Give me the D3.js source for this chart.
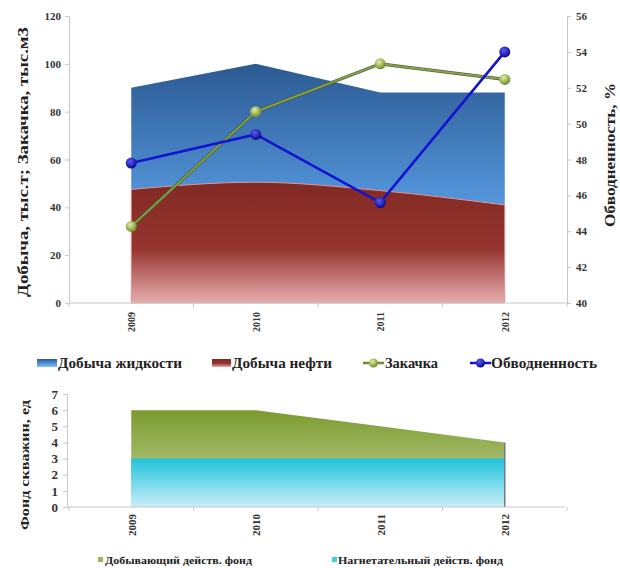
<!DOCTYPE html>
<html>
<head>
<meta charset="utf-8">
<script src="https://cdn.jsdelivr.net/npm/d3@7"></script>
<style>
  body { margin: 0; background: #fff; }
  svg text { font-family: "Liberation Serif", "DejaVu Serif", "Times New Roman", serif !important; font-weight: bold; }
</style>
</head>
<body>
<div class="chart"></div>
<script>
// data
const years = ["2009", "2010", "2011", "2012"];
const liquid = [90, 100, 88, 88];        // Добыча жидкости, тыс.т
const oil = [47.5, 50.5, 47, 41];        // Добыча нефти, тыс.т
const injection = [32, 80, 100, 93.5];   // Закачка, тыс.м3
const waterCut = [47.8, 49.4, 45.6, 54]; // Обводненность, %
const leftTicks = [0, 20, 40, 60, 80, 100, 120];
const rightTicks = [40, 42, 44, 46, 48, 50, 52, 54, 56];

const producing = [6, 6, 5, 4];   // Добывающий действ. фонд
const injecting = [3, 3, 3, 3];   // Нагнетательный действ. фонд
const wellTicks = [0, 1, 2, 3, 4, 5, 6, 7];

(function () {
    const svgWidth = 620, svgHeight = 568;
    const FONT = "'Liberation Serif', 'DejaVu Serif', serif";
    const svg = d3.select(".chart").append("svg")
        .attr("width", svgWidth)
        .attr("height", svgHeight)
        .attr("font-family", FONT);

    const defs = svg.append("defs");
    function linGrad(id, stops) {
        const g = defs.append("linearGradient").attr("id", id)
            .attr("x1", 0).attr("y1", 0).attr("x2", 0).attr("y2", 1);
        stops.forEach(s => g.append("stop").attr("offset", s[0]).attr("stop-color", s[1]));
    }
    function radGrad(id, inner, outer) {
        const g = defs.append("radialGradient").attr("id", id)
            .attr("cx", "40%").attr("cy", "35%").attr("r", "65%");
        g.append("stop").attr("offset", 0).attr("stop-color", inner);
        g.append("stop").attr("offset", 1).attr("stop-color", outer);
    }
    linGrad("gLiquid", [[0, "#2c5a92"], [0.55, "#5293d8"], [1, "#8cc0f0"]]);
    linGrad("gOil", [[0, "#822923"], [0.55, "#96342f"], [1, "#e6aeae"]]);
    linGrad("gProd", [[0, "#7a9a30"], [1, "#cbd99c"]]);
    linGrad("gInj", [[0, "#1ec3dc"], [1, "#cbeef9"]]);
    radGrad("mGreen", "#e4f0a0", "#6f8c2a");
    radGrad("mBlue", "#5a5aff", "#0a0a8a");

    const axisColor = "#c8c8c8";

    // ================= top chart =================
    const x = d3.scalePoint().domain(years).range([69, 567]).padding(0.5);
    const xb = d3.scaleBand().domain(years).range([69, 567]);
    const yL = d3.scaleLinear().domain([0, 120]).range([303, 16]);
    const yR = d3.scaleLinear().domain([40, 56]).range([303, 16]);

    const top = svg.append("g");

    const areaLiquid = d3.area().x((d, i) => x(years[i])).y0(yL(0)).y1(d => yL(d));
    const areaOil = d3.area().x((d, i) => x(years[i])).y0(yL(0)).y1(d => yL(d))
        .curve(d3.curveMonotoneX);

    top.append("path").datum(liquid).attr("d", areaLiquid).attr("fill", "url(#gLiquid)");
    top.append("path").datum(oil).attr("d", areaOil).attr("fill", "url(#gOil)")
        .attr("stroke", "#d99a9a").attr("stroke-width", 1);

    // axes
    const leftAxis = d3.axisLeft(yL).tickValues(leftTicks).tickSize(4).tickPadding(4);
    const rightAxis = d3.axisRight(yR).tickValues(rightTicks).tickSize(4).tickPadding(5);
    const bottomAxis = d3.axisBottom(x).tickSize(0).tickPadding(0);

    function styleAxis(g) {
        g.attr("font-family", FONT);
        g.select(".domain").attr("stroke", axisColor);
        g.selectAll(".tick line").attr("stroke", axisColor);
        g.selectAll(".tick text").attr("fill", "#333").style("font-size", "11px");
    }

    top.append("g").attr("transform", "translate(69,0)").call(leftAxis).call(styleAxis);
    top.append("g").attr("transform", "translate(567,0)").call(rightAxis).call(styleAxis);

    const xg = top.append("g").attr("transform", "translate(0,303)").call(bottomAxis).call(styleAxis);
    xg.select(".domain").remove();
    xg.append("line").attr("x1", 69).attr("x2", 567).attr("stroke", axisColor);
    xg.selectAll(".tick text")
        .style("font-size", "10px")
        .attr("transform", "rotate(-90)")
        .attr("text-anchor", "end")
        .attr("x", -9).attr("y", 0).attr("dy", "0.35em");
    xg.selectAll("line.sep")
        .data(years.map(d => xb(d)).concat([567]))
        .enter().append("line").attr("class", "sep")
        .attr("x1", d => d).attr("x2", d => d)
        .attr("y1", 0).attr("y2", 4).attr("stroke", axisColor);

    // lines
    const lineL = d3.line().x((d, i) => x(years[i])).y(d => yL(d));
    const lineR = d3.line().x((d, i) => x(years[i])).y(d => yR(d));

    top.append("path").datum(injection).attr("d", lineL)
        .attr("fill", "none").attr("stroke", "#4f6630").attr("stroke-width", 3.2);
    top.append("path").datum(injection).attr("d", lineL)
        .attr("fill", "none").attr("stroke", "#8aa650").attr("stroke-width", 1.6);
    top.selectAll("circle.inj").data(injection).enter().append("circle")
        .attr("class", "inj")
        .attr("cx", (d, i) => x(years[i])).attr("cy", d => yL(d))
        .attr("r", 5.5).attr("fill", "url(#mGreen)");

    top.append("path").datum(waterCut).attr("d", lineR)
        .attr("fill", "none").attr("stroke", "#1414d0").attr("stroke-width", 2.6);
    top.selectAll("circle.wc").data(waterCut).enter().append("circle")
        .attr("class", "wc")
        .attr("cx", (d, i) => x(years[i])).attr("cy", d => yR(d))
        .attr("r", 5.5).attr("fill", "url(#mBlue)");

    // axis titles
    svg.append("text")
        .attr("transform", "translate(23,162) rotate(-90)")
        .attr("text-anchor", "middle").attr("dy", "0.35em")
        .attr("fill", "#222").style("font-size", "15px")
        .attr("textLength", 270).attr("lengthAdjust", "spacingAndGlyphs")
        .text("Добыча, тыс.т; Закачка, тыс.м3");
    svg.append("text")
        .attr("transform", "translate(610,155) rotate(-90)")
        .attr("text-anchor", "middle").attr("dy", "0.35em")
        .attr("fill", "#222").style("font-size", "14px")
        .attr("textLength", 144).attr("lengthAdjust", "spacingAndGlyphs")
        .text("Обводненность, %");

    // legend
    const legY = 363;
    const leg = svg.append("g");
    leg.append("rect").attr("x", 37).attr("y", legY - 4).attr("width", 20).attr("height", 8)
        .attr("fill", "url(#gLiquid)");
    leg.append("rect").attr("x", 212).attr("y", legY - 4).attr("width", 19).attr("height", 8)
        .attr("fill", "url(#gOil)");
    leg.append("line").attr("x1", 363).attr("x2", 384).attr("y1", legY).attr("y2", legY)
        .attr("stroke", "#6f8c3a").attr("stroke-width", 2.5);
    leg.append("circle").attr("cx", 373.5).attr("cy", legY).attr("r", 4.5).attr("fill", "url(#mGreen)");
    leg.append("line").attr("x1", 470).attr("x2", 491).attr("y1", legY).attr("y2", legY)
        .attr("stroke", "#1414d0").attr("stroke-width", 2.5);
    leg.append("circle").attr("cx", 480.5).attr("cy", legY).attr("r", 4.5).attr("fill", "url(#mBlue)");

    const legItems = [
        {x: 58, w: 124, t: "Добыча жидкости"},
        {x: 232, w: 100, t: "Добыча нефти"},
        {x: 385, w: 53, t: "Закачка"},
        {x: 491, w: 106, t: "Обводненность"}
    ];
    leg.selectAll("text.lg").data(legItems).enter().append("text")
        .attr("class", "lg")
        .attr("x", d => d.x).attr("y", legY).attr("dy", "0.35em")
        .attr("fill", "#222").style("font-size", "14px")
        .attr("textLength", d => d.w).attr("lengthAdjust", "spacingAndGlyphs")
        .text(d => d.t);

    // ================= bottom chart =================
    const yB = d3.scaleLinear().domain([0, 7]).range([507, 394]);
    const bot = svg.append("g");

    const areaB = d3.area().x((d, i) => x(years[i])).y0(yB(0)).y1(d => yB(d));
    bot.append("path").datum(producing).attr("d", areaB).attr("fill", "url(#gProd)");
    bot.append("path").datum(injecting).attr("d", areaB).attr("fill", "url(#gInj)");
    // thin edge on the right end
    bot.append("line")
        .attr("x1", x(years[3])).attr("x2", x(years[3]))
        .attr("y1", yB(producing[3])).attr("y2", yB(0))
        .attr("stroke", "#6d7f86").attr("stroke-width", 1.5);

    const leftAxisB = d3.axisLeft(yB).tickValues(wellTicks).tickFormat(d3.format("d"))
        .tickSize(4).tickPadding(5);
    bot.append("g").attr("transform", "translate(67,0)").call(leftAxisB).call(styleAxis)
        .selectAll(".tick text").style("font-size", "13px");

    const xgB = bot.append("g").attr("transform", "translate(0,507)").call(bottomAxis).call(styleAxis);
    xgB.select(".domain").remove();
    xgB.append("line").attr("x1", 67).attr("x2", 565).attr("stroke", axisColor);
    xgB.selectAll(".tick text")
        .style("font-size", "11px")
        .attr("transform", "rotate(-90)")
        .attr("text-anchor", "end")
        .attr("x", -7).attr("y", 0).attr("dy", "0.35em");
    xgB.selectAll("line.sep")
        .data(years.map(d => xb(d)).concat([567]))
        .enter().append("line").attr("class", "sep")
        .attr("x1", d => d).attr("x2", d => d)
        .attr("y1", 0).attr("y2", 4).attr("stroke", axisColor);

    svg.append("text")
        .attr("transform", "translate(25,465) rotate(-90)")
        .attr("text-anchor", "middle").attr("dy", "0.35em")
        .attr("fill", "#222").style("font-size", "12px")
        .attr("textLength", 130).attr("lengthAdjust", "spacingAndGlyphs")
        .text("Фонд скважин, ед");

    // bottom legend
    const legY2 = 560;
    const legB = [
        {sx: 98, x: 105, w: 147, fill: "#9fb860", t: "Добывающий действ. фонд"},
        {sx: 332, x: 338, w: 165, fill: "#3dd0e6", t: "Нагнетательный действ. фонд"}
    ];
    const lb = svg.append("g").selectAll("g").data(legB).enter().append("g");
    lb.append("rect").attr("x", d => d.sx).attr("y", legY2 - 3).attr("width", 5).attr("height", 5)
        .attr("fill", d => d.fill);
    lb.append("text").attr("x", d => d.x).attr("y", legY2).attr("dy", "0.35em")
        .attr("fill", "#222").style("font-size", "11px")
        .attr("textLength", d => d.w).attr("lengthAdjust", "spacingAndGlyphs")
        .text(d => d.t);
})();
</script>
</body>
</html>
